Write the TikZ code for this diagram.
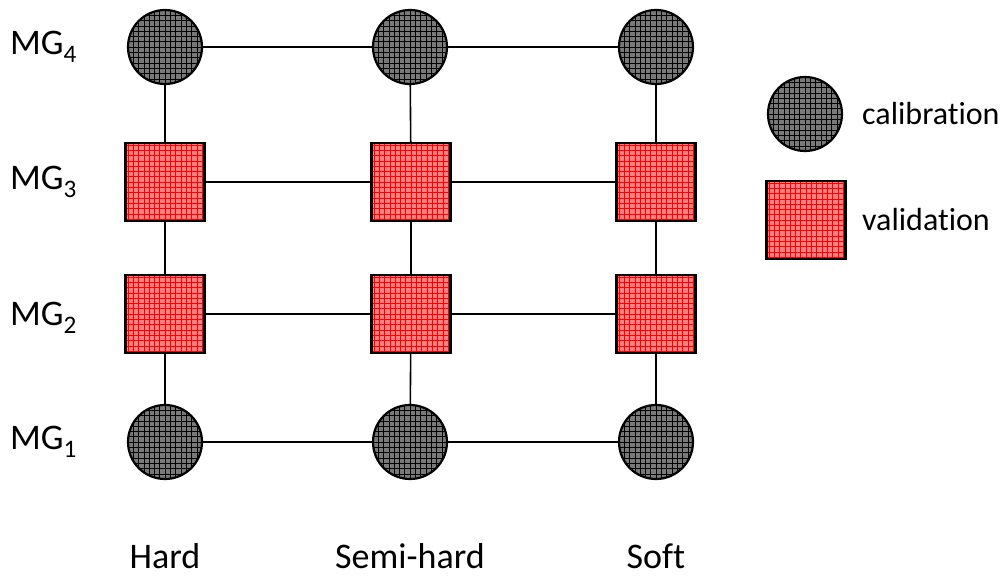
\documentclass[tikz,border=0pt]{standalone}
\usepackage{fontspec}
\setmainfont{Carlito}[Ligatures=NoCommon]
\begin{document}
\begin{tikzpicture}[x=1pt,y=-1pt,
  calnode/.style={circle,draw=black,line width=2.2pt,fill=gray!95!black,minimum size=74pt,inner sep=0pt,
    path picture={\draw[black,line width=0.6pt,step=5.3pt] ([shift={(-3pt,-3pt)}]path picture bounding box.south west) grid ([shift={(3pt,3pt)}]path picture bounding box.north east);}},
  valnode/.style={rectangle,draw=black,line width=2.2pt,fill={rgb,255:red,255;green,128;blue,128},minimum width=79pt,minimum height=78pt,inner sep=0pt,
    path picture={\draw[red,line width=0.6pt,step=5.3pt] ([shift={(-3pt,-3pt)}]path picture bounding box.south west) grid ([shift={(3pt,3pt)}]path picture bounding box.north east);}},
  conn/.style={line width=1.6pt,black},
  lbl/.style={font=\fontsize{36}{42}\selectfont,inner sep=0pt},
  leg/.style={font=\fontsize{32}{38}\selectfont,inner sep=0pt}]
\useasboundingbox (0,0) rectangle (1002,576);
% grid nodes
\node[calnode] (c14) at (165,47) {};
\node[calnode] (c24) at (410,47) {};
\node[calnode] (c34) at (656,47) {};
\node[valnode] (v13) at (165,182) {};
\node[valnode] (v23) at (411,182) {};
\node[valnode] (v33) at (656,182) {};
\node[valnode] (v12) at (165,314) {};
\node[valnode] (v22) at (411,314) {};
\node[valnode] (v32) at (656,314) {};
\node[calnode] (c11) at (165,442) {};
\node[calnode] (c21) at (410,442) {};
\node[calnode] (c31) at (656,442) {};
% connectors
\draw[conn] (c14) -- (c24); \draw[conn] (c24) -- (c34);
\draw[conn] (v13) -- (v23); \draw[conn] (v23) -- (v33);
\draw[conn] (v12) -- (v22); \draw[conn] (v22) -- (v32);
\draw[conn] (c11) -- (c21); \draw[conn] (c21) -- (c31);
\draw[conn] (c14) -- (v13); \draw[conn] (v13) -- (v12); \draw[conn] (v12) -- (c11);
\draw[conn] (c24) -- (v23); \draw[conn] (v23) -- (v22); \draw[conn] (v22) -- (c21);
\draw[conn] (c34) -- (v33); \draw[conn] (v33) -- (v32); \draw[conn] (v32) -- (c31);
% row labels
\node[lbl,anchor=west] (m4) at (10,47) {MG\textsubscript{4}};
\node[lbl,anchor=west] (m3) at (10,182) {MG\textsubscript{3}};
\node[lbl,anchor=west] (m2) at (10,318) {MG\textsubscript{2}};
\node[lbl,anchor=west] (m1) at (10,442) {MG\textsubscript{1}};
% column labels
\node[lbl] (h) at (165,556) {Hard};
\node[lbl] (sh) at (410,556) {Semi-hard};
\node[lbl] (s) at (656,556) {Soft};
% legend
\node[calnode] (lc) at (805,114) {};
\node[valnode] (lv) at (806,220) {};
\node[leg,anchor=west] (lct) at (862,114) {calibration};
\node[leg,anchor=west] (lvt) at (862,220) {validation};
\end{tikzpicture}
\end{document}
